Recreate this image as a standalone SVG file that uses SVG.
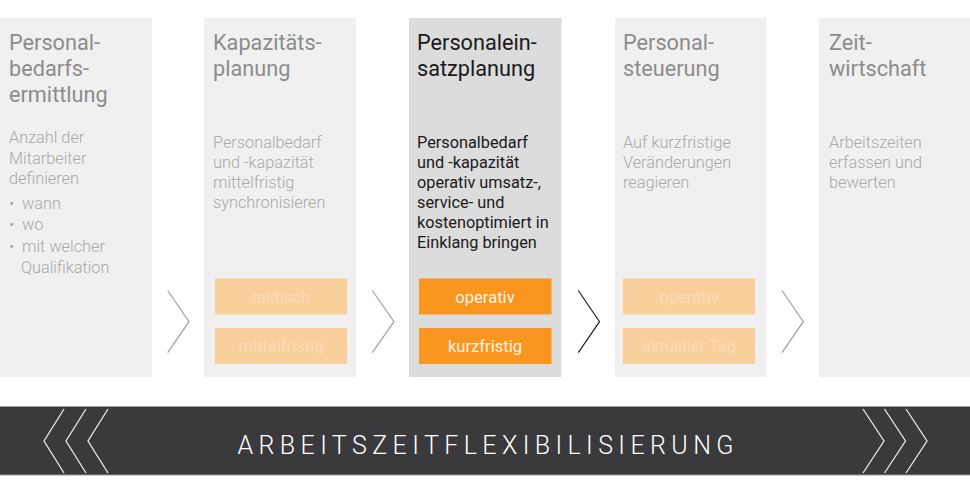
<svg xmlns="http://www.w3.org/2000/svg" width="970" height="494" viewBox="0 0 970 494">
<style>
.col{fill:#f0f0f0}
.colA{fill:#dcdcdc}
.t{font-family:Roboto,"Liberation Sans",sans-serif;font-size:21.7px;fill:#8c8c8c}
.tA{fill:#1a1a1a}
.b{font-family:Roboto,"Liberation Sans",sans-serif;font-weight:300;font-size:16.3px;fill:#a9a9a9}
.bA{fill:#1a1a1a;font-weight:400}
.bx{fill:#f9cf9b}
.bxA{fill:#f9961f}
.bt{font-family:Roboto,"Liberation Sans",sans-serif;font-size:16.6px;fill:#fcdcb6;text-anchor:middle}
.btA{fill:#fff4e6}
.chev{fill:none;stroke:#a0a0a0;stroke-width:1.2}
.chevA{stroke:#222}
.wchev{fill:none;stroke:#e8e8e8;stroke-width:1.3}
</style>
<rect x="0" y="0" width="970" height="494" fill="#ffffff"/>

<g id="node-personalbedarfsermittlung">
<rect class="col" x="0" y="18" width="152" height="359"/>
<text class="t" x="9" y="50">Personal-</text>
<text class="t" x="9" y="76">bedarfs-</text>
<text class="t" x="9" y="102">ermittlung</text>
<text class="b" x="9" y="143">Anzahl der</text>
<text class="b" x="9" y="164">Mitarbeiter</text>
<text class="b" x="9" y="184">definieren</text>
<text class="b" x="9" y="209">•</text><text class="b" x="22" y="209">wann</text>
<text class="b" x="9" y="230">•</text><text class="b" x="22" y="230">wo</text>
<text class="b" x="9" y="252">•</text><text class="b" x="22" y="252">mit welcher</text>
<text class="b" x="21" y="273">Qualifikation</text>
</g>

<g id="node-kapazitaetsplanung">
<rect class="col" x="204" y="18" width="152" height="359"/>
<text class="t" x="213" y="50">Kapazitäts-</text>
<text class="t" x="213" y="76">planung</text>
<text class="b" x="213" y="148">Personalbedarf</text>
<text class="b" x="213" y="168">und -kapazität</text>
<text class="b" x="213" y="188">mittelfristig</text>
<text class="b" x="213" y="208">synchronisieren</text>
<rect class="bx" x="215" y="278.5" width="132" height="36"/>
<text class="bt" x="281" y="302.5">taktisch</text>
<rect class="bx" x="215" y="328" width="132" height="36"/>
<text class="bt" x="281" y="352">mittelfristig</text>
</g>

<g id="node-personaleinsatzplanung">
<rect class="colA" x="409" y="18" width="152.5" height="359"/>
<text class="t tA" x="417" y="50">Personalein-</text>
<text class="t tA" x="417" y="76">satzplanung</text>
<text class="b bA" x="417" y="148">Personalbedarf</text>
<text class="b bA" x="417" y="168">und -kapazität</text>
<text class="b bA" x="417" y="188">operativ umsatz-,</text>
<text class="b bA" x="417" y="208">service- und</text>
<text class="b bA" x="417" y="228">kostenoptimiert in</text>
<text class="b bA" x="417" y="248">Einklang bringen</text>
<rect class="bxA" x="419" y="278.5" width="132.5" height="36"/>
<text class="bt btA" x="485" y="302.5">operativ</text>
<rect class="bxA" x="419" y="328" width="132.5" height="36"/>
<text class="bt btA" x="485" y="352">kurzfristig</text>
</g>

<g id="node-personalsteuerung">
<rect class="col" x="615" y="18" width="151.5" height="359"/>
<text class="t" x="623" y="50">Personal-</text>
<text class="t" x="623" y="76">steuerung</text>
<text class="b" x="623" y="148">Auf kurzfristige</text>
<text class="b" x="623" y="168">Veränderungen</text>
<text class="b" x="623" y="188">reagieren</text>
<rect class="bx" x="623" y="278.5" width="132" height="36"/>
<text class="bt" x="689" y="302.5">operativ</text>
<rect class="bx" x="623" y="328" width="132" height="36"/>
<text class="bt" x="689" y="352">aktueller Tag</text>
</g>

<g id="node-zeitwirtschaft">
<rect class="col" x="819" y="18" width="151" height="359"/>
<text class="t" x="829" y="50">Zeit-</text>
<text class="t" x="829" y="76">wirtschaft</text>
<text class="b" x="829" y="148">Arbeitszeiten</text>
<text class="b" x="829" y="168">erfassen und</text>
<text class="b" x="829" y="188">bewerten</text>
</g>

<g id="connectors">
<polyline class="chev" points="167.7,290.5 189,321.7 167.7,352.7"/>
<polyline class="chev" points="372.3,290.5 394,321.7 372.3,352.7"/>
<polyline class="chev chevA" points="578.3,290.5 599.5,321.7 578.3,352.7"/>
<polyline class="chev" points="782,290.5 803.3,321.7 782,352.7"/>
</g>

<g id="band">
<rect x="0" y="406.5" width="970" height="68.5" fill="#3a393b"/>
<line x1="0" y1="406.5" x2="970" y2="406.5" stroke="#9a9a9a" stroke-width="1"/>
<line x1="0" y1="475" x2="970" y2="475" stroke="#9a9a9a" stroke-width="1"/>
<polyline class="wchev" points="64,409 44,441 64,473"/>
<polyline class="wchev" points="86,409 66,441 86,473"/>
<polyline class="wchev" points="108,409 88,441 108,473"/>
<polyline class="wchev" points="863,409 884,441 863,473"/>
<polyline class="wchev" points="884.5,409 905.5,441 884.5,473"/>
<polyline class="wchev" points="906,409 927,441 906,473"/>
<text x="237.5" y="454.3" font-family="Roboto,'Liberation Sans',sans-serif" font-weight="300" font-size="25px" letter-spacing="5.4" fill="#ffffff">ARBEITSZEITFLEXIBILISIERUNG</text>
</g>
</svg>
